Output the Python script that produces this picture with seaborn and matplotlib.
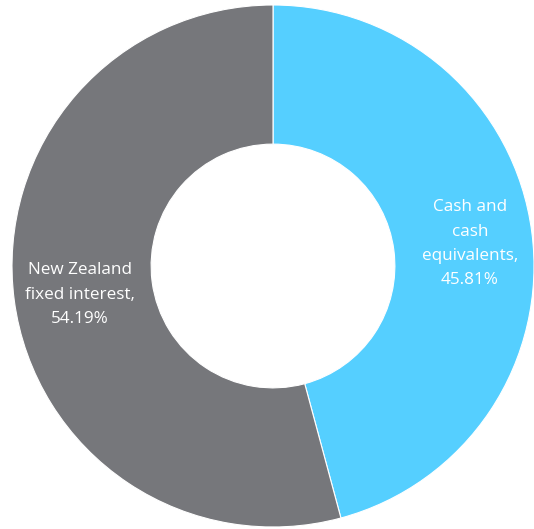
import matplotlib
matplotlib.use("Agg")
import matplotlib.pyplot as plt
import seaborn as sns

categories = ["Cash and\ncash\nequivalents,", "New Zealand\nfixed interest,"]
shares = [45.81, 54.19]
colours = ["#55CFFF", "#76777B"]

sns.set_theme(style="white")
plt.rcParams['font.family'] = ['Open Sans', 'DejaVu Sans']

fig = plt.figure(figsize=(5.34, 5.29), dpi=100)
ax = fig.add_axes([0, 0, 1, 1])

r = 261.0
cx, cy = 273.0, 266.0
wedges, _ = ax.pie(shares, colors=colours, startangle=90, counterclock=False,
                   radius=1.0, wedgeprops=dict(width=0.533, edgecolor="white", linewidth=0.8))

# label positions (axes units, relative to pie centre)
label_pos = [(0.755, 0.085), (-0.74, -0.11)]
for name, val, (x, y) in zip(categories, shares, label_pos):
    ax.text(x, y, f"{name}\n{val:.2f}%", ha="center", va="center", color="white",
            fontsize=12.3, linespacing=1.7)

ax.set_xlim(-cx / r, (534 - cx) / r)
ax.set_ylim(-(529 - cy) / r, cy / r)
ax.set_aspect("equal")
ax.axis("off")

fig.savefig("out.png", dpi=100)
